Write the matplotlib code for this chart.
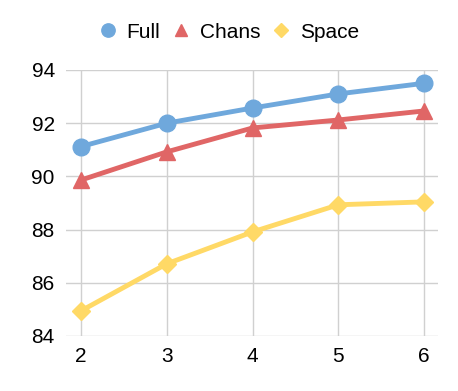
import matplotlib
matplotlib.use('Agg')
import matplotlib.pyplot as plt

plt.rcParams['font.family'] = ['Liberation Sans', 'DejaVu Sans']

x = [2, 3, 4, 5, 6]
full = [91.12, 92.0, 92.57, 93.1, 93.5]
chans = [89.86, 90.92, 91.82, 92.12, 92.46]
space = [84.94, 86.71, 87.91, 88.93, 89.04]

fig = plt.figure(figsize=(4.58, 3.91), dpi=100)
ax = fig.add_axes([0.144, 0.141, 0.812, 0.68])

ax.plot(x, full, color='#6fa8dc', lw=3.5, marker='o', ms=12, label='Full')
ax.plot(x, chans, color='#e06666', lw=3.5, marker='^', ms=11, label='Chans')
ax.plot(x, space, color='#ffd966', lw=3.5, marker='D', ms=9, label='Space')

ax.set_xlim(1.825, 6.16)
ax.set_ylim(84, 94)
ax.set_xticks(x)
ax.set_yticks([84, 86, 88, 90, 92, 94])
ax.grid(True, color='#d0d0d0', lw=1)
ax.set_axisbelow(True)
for s in ax.spines.values():
    s.set_visible(False)
ax.tick_params(length=0, labelsize=15, pad=8)

fig.legend(loc='center', bbox_to_anchor=(0.5, 0.918), ncol=3, frameon=False,
           fontsize=15, handlelength=0.8, handletextpad=0.5, columnspacing=0.6,
           markerscale=0.8)
leg = fig.legends[0]
for h in leg.legend_handles:
    h.set_linestyle('none')

fig.savefig('out.png', dpi=100)
